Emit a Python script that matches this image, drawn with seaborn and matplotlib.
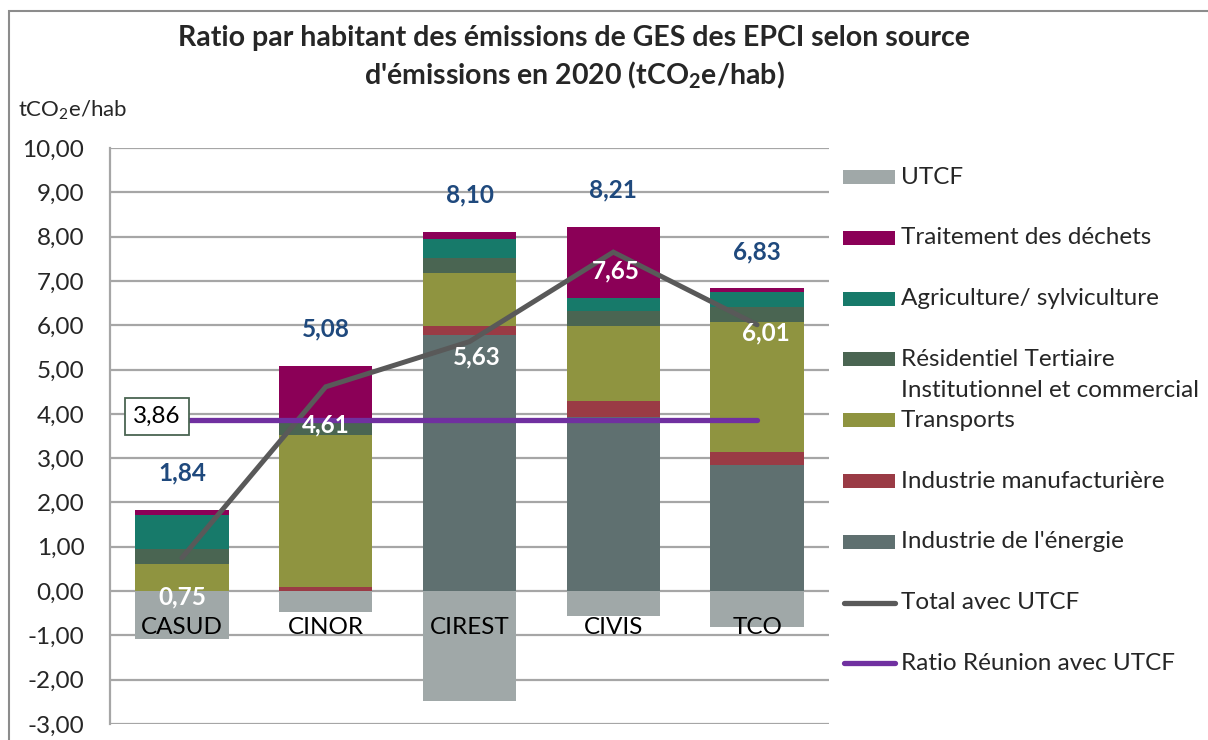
import numpy as np
import pandas as pd
import matplotlib
matplotlib.use("Agg")
from matplotlib import pyplot as plt
from matplotlib.patches import Rectangle
from matplotlib.lines import Line2D
import seaborn as sns

# data (tCO2e/hab)
epci = ['CASUD', 'CINOR', 'CIREST', 'CIVIS', 'TCO']
energie = [0.00, 0.00, 5.78, 3.93, 2.85]
manuf = [0.00, 0.09, 0.20, 0.35, 0.30]
transports = [0.60, 3.43, 1.21, 1.71, 2.92]
residentiel = [0.35, 0.27, 0.32, 0.34, 0.34]
agriculture = [0.77, 0.01, 0.43, 0.29, 0.33]
dechets = [0.12, 1.28, 0.16, 1.59, 0.09]
utcf = [-1.09, -0.47, -2.47, -0.56, -0.82]
total_sans = [1.84, 5.08, 8.10, 8.21, 6.83]
total_avec = [0.75, 4.61, 5.63, 7.65, 6.01]
ratio_reunion = 3.86

sources = ["Industrie de l'énergie", 'Industrie manufacturière', 'Transports',
           'Résidentiel Tertiaire\nInstitutionnel et commercial',
           'Agriculture/ sylviculture', 'Traitement des déchets']
colors = ['#5F7070', '#9A3B45', '#8F9440', '#4A6552', '#177A6A', '#8B0057']
utcf_color = '#A0A8A8'
total_color = '#595959'
ratio_color = '#7030A0'
label_blue = '#1F497D'

df = pd.DataFrame({'EPCI': epci, sources[0]: energie, sources[1]: manuf,
                   sources[2]: transports, sources[3]: residentiel,
                   sources[4]: agriculture, sources[5]: dechets})
cum = df[sources].cumsum(axis=1)

sns.set_style('white')
plt.rcParams['font.family'] = ['Lato', 'DejaVu Sans']
plt.rcParams['mathtext.fontset'] = 'custom'
plt.rcParams['mathtext.rm'] = 'Lato'
plt.rcParams['mathtext.bf'] = 'Lato:bold'
plt.rcParams['mathtext.default'] = 'regular'

FS = 17.5
W, H = 1208, 740
fig = plt.figure(figsize=(W / 100, H / 100), dpi=100)
ax = fig.add_axes([110 / W, 1 - 724 / H, (829 - 110) / W, (724 - 148) / H])

# stacked bars: draw cumulative heights from top layer down
for i in range(len(sources) - 1, -1, -1):
    sns.barplot(x=df['EPCI'], y=cum[sources[i]], color=colors[i], width=0.65,
                saturation=1, errorbar=None, linewidth=0, ax=ax)
sns.barplot(x=df['EPCI'], y=utcf, color=utcf_color, width=0.65,
            saturation=1, errorbar=None, linewidth=0, ax=ax)

pos = np.arange(len(epci))
ax.plot(pos, total_avec, color=total_color, lw=3.6, solid_joinstyle='miter', zorder=5)
ax.plot([pos[0], pos[-1]], [ratio_reunion, ratio_reunion], color=ratio_color,
        lw=3.8, solid_capstyle='round', zorder=5)

ax.set_ylim(-3, 10)
ax.set_xlim(-0.5, len(epci) - 0.5)
yt = np.arange(-3, 11, 1)
ax.set_yticks(yt)
ax.set_yticklabels([f"{v:.2f}".replace('.', ',') for v in yt], fontsize=FS)
ax.tick_params(axis='y', length=0, pad=18.5)
ax.set_xticks([])
ax.set_xlabel('')
ax.set_ylabel('')
ax.yaxis.grid(True, color='#A6A6A6', lw=1.6)
ax.set_axisbelow(True)
for s in ['top', 'right', 'bottom']:
    ax.spines[s].set_visible(False)
ax.spines['left'].set_color('#A6A6A6')
ax.spines['left'].set_linewidth(1.6)

# category names sit just under the zero line
for i, name in enumerate(epci):
    ax.annotate(name, (i, 0), xytext=(0, -36), textcoords='offset pixels',
                ha='center', va='center', fontsize=FS, color='black', zorder=6)

# totals without UTCF, above each bar
for i, v in enumerate(total_sans):
    ax.annotate(f"{v:.2f}".replace('.', ','), (i, v), xytext=(0, 37),
                textcoords='offset pixels', ha='center', va='center',
                fontsize=FS, fontweight='bold', color=label_blue, zorder=6)

# totals with UTCF, white labels near the line
offs = [(0, -39), (0, -38), (7, -15), (3, -19), (9, -8)]
for i, v in enumerate(total_avec):
    ax.annotate(f"{v:.2f}".replace('.', ','), (i, v), xytext=offs[i],
                textcoords='offset pixels', ha='center', va='center',
                fontsize=FS, fontweight='bold', color='white', zorder=7)

ax.annotate(f"{ratio_reunion:.2f}".replace('.', ','), (pos[0], ratio_reunion),
            xytext=(-25, 4), textcoords='offset pixels', ha='center', va='center',
            fontsize=FS, color='black', zorder=7,
            bbox=dict(boxstyle='square,pad=0.33', fc='white', ec='#4A6552', lw=1.3))

# title and unit
fig.text(574 / W, 1 - 58 / H,
         "Ratio par habitant des émissions de GES des EPCI selon source\n"
         r"d'émissions en 2020 (tCO$_\mathbf{2}$e/hab)",
         ha='center', va='center', fontsize=20.5, fontweight='bold',
         linespacing=1.4)
fig.text(18 / W, 1 - 110 / H, r"tCO$_2$e/hab", ha='left', va='center', fontsize=16)

# legend drawn at the right side of the chart
def fx(x):
    return x / W


def fy(y):
    return 1 - y / H


leg = [('UTCF', 'bar', utcf_color)]
for i in range(len(sources) - 1, -1, -1):
    leg.append((sources[i], 'bar', colors[i]))
leg.append(('Total avec UTCF', 'line', total_color))
leg.append(('Ratio Réunion avec UTCF', 'line', ratio_color))

for k, (lab, kind, col) in enumerate(leg):
    y = 177 + k * 60.8
    if kind == 'bar':
        fig.add_artist(Rectangle((fx(843), fy(y + 7)), 52 / W, 14 / H,
                                 transform=fig.transFigure, color=col, lw=0))
    else:
        fig.add_artist(Line2D([fx(844), fx(895)], [fy(y), fy(y)],
                              transform=fig.transFigure, color=col, lw=3.8,
                              solid_capstyle='round'))
    for j, line in enumerate(lab.split('\n')):
        fig.text(fx(901), fy(y + j * 31), line, ha='left', va='center', fontsize=FS)

# outer chart frame
fig.add_artist(Rectangle((fx(9), -0.2), 1.2, fy(11) + 0.2, transform=fig.transFigure,
                         fill=False, ec='#8C8C8C', lw=1.5))

fig.savefig('out.png', dpi=100)
